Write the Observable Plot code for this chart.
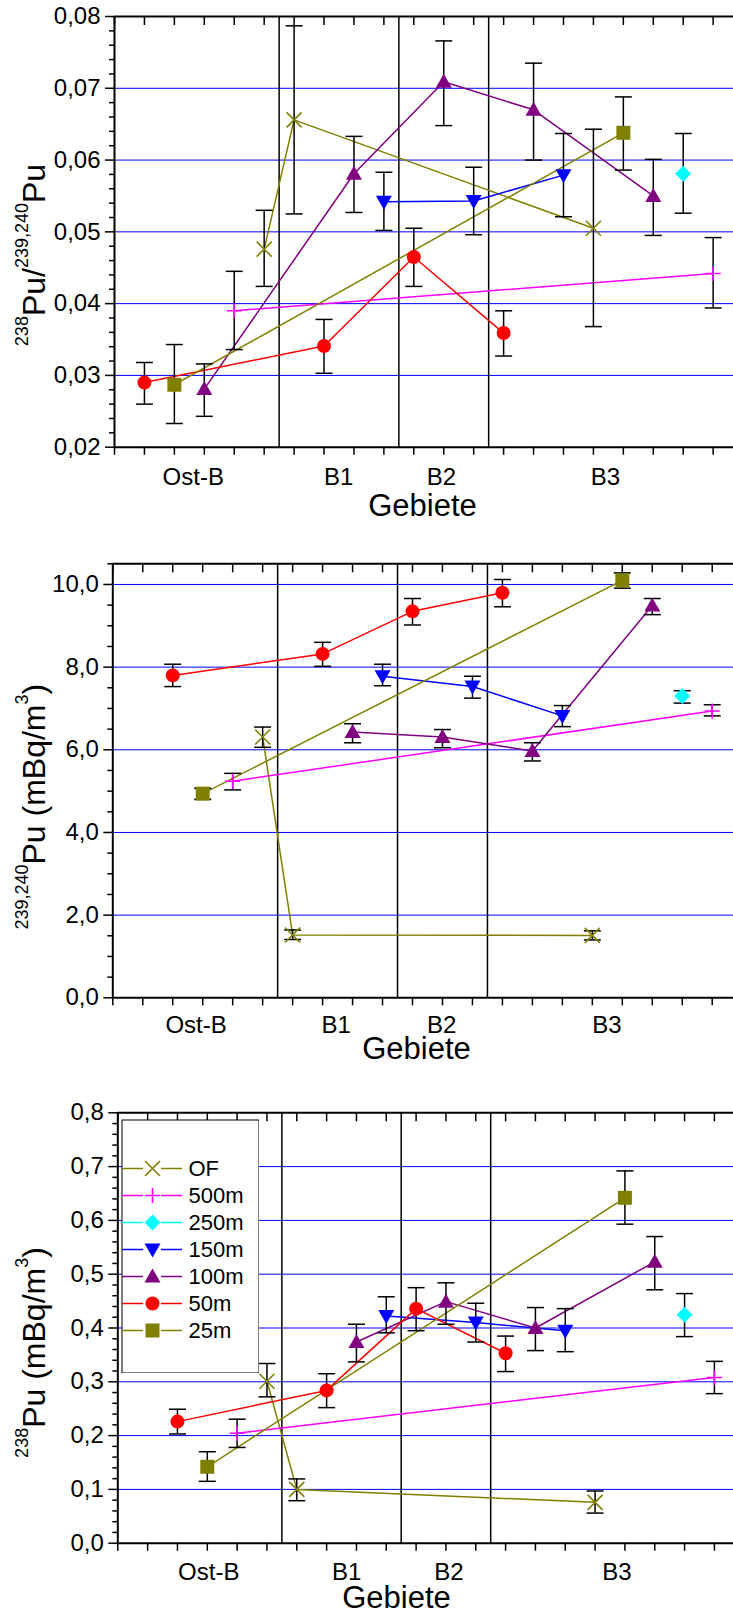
<!DOCTYPE html>
<html><head><meta charset="utf-8">
<script src="https://cdn.jsdelivr.net/npm/d3@7"></script>
<script src="https://cdn.jsdelivr.net/npm/@observablehq/plot@0.6"></script>
<style>
html,body{margin:0;padding:0;background:#fff;overflow:hidden;}
#chart{position:relative;width:733px;height:1611px;overflow:hidden;font-family:"Liberation Sans",Arial,sans-serif;}
.panel{position:absolute;left:0;}
.panel svg{display:block;}
#legend{position:absolute;left:121px;top:1119px;}
#legend svg{display:block;}
</style></head><body><div id="chart"></div>
<script>
// ---------- categories / series ----------
const seriesNames  = ["OF", "500m", "250m", "150m", "100m", "50m", "25m"];
const seriesColors = ["#808000", "#ff00ff", "#00ffff", "#0000ff", "#800080", "#ff0000", "#808000"];
const regionNames  = ["Ost-B", "B1", "B2", "B3"];
const regionBounds = [5.5, 9.5, 12.5];

// ---------- panel 1: 238Pu / 239,240Pu ----------
const ratioSeries = ["50m","25m","100m","500m","OF","OF","50m","100m","150m","50m","100m","150m","50m","100m","150m","OF","25m","100m","250m","500m"];
const ratioPos    = [1,2,3,4,5,6,7,8,9,10,11,12,13,14,15,16,17,18,19,20];
const ratioValue  = [0.0290,0.0287,0.0281,0.0390,0.0476,0.0656,0.0341,0.0581,0.0542,0.0465,0.0709,0.0543,0.0359,0.0670,0.0579,0.0505,0.0638,0.0550,0.0581,0.0442];
const ratioLow    = [0.0260,0.0233,0.0243,0.0336,0.0424,0.0525,0.0303,0.0527,0.0502,0.0424,0.0648,0.0496,0.0327,0.0600,0.0521,0.0368,0.0586,0.0495,0.0526,0.0394];
const ratioHigh   = [0.0318,0.0343,0.0316,0.0445,0.0530,0.0787,0.0378,0.0633,0.0583,0.0505,0.0766,0.0590,0.0390,0.0735,0.0637,0.0643,0.0688,0.0601,0.0637,0.0492];
const ratioTicks  = [0.02,0.03,0.04,0.05,0.06,0.07,0.08];

// ---------- panel 2: 239,240Pu (mBq/m3) ----------
const puSeries = ["50m","25m","500m","OF","OF","50m","100m","150m","50m","100m","150m","50m","100m","150m","OF","25m","100m","250m","500m"];
const puPos    = [2,3,4,5,6,7,8,9,10,11,12,13,14,15,16,17,18,19,20];
const puValue  = [7.80,4.94,5.24,6.31,1.52,8.32,6.43,7.78,9.35,6.31,7.53,9.80,5.97,6.82,1.51,10.10,9.49,7.30,6.94];
const puLow    = [7.53,4.80,5.03,6.06,1.41,8.02,6.17,7.55,9.02,6.05,7.25,9.46,5.73,6.56,1.40,9.91,9.27,7.13,6.82];
const puHigh   = [8.07,5.07,5.43,6.55,1.64,8.60,6.63,8.07,9.66,6.49,7.78,10.12,6.17,7.07,1.62,10.28,9.66,7.43,7.09];
const puTicks  = [0,2,4,6,8,10];

// ---------- panel 3: 238Pu (mBq/m3) ----------
const pu238Series = ["50m","25m","500m","OF","OF","50m","100m","150m","50m","100m","150m","50m","100m","150m","OF","25m","100m","250m","500m"];
const pu238Pos    = [2,3,4,5,6,7,8,9,10,11,12,13,14,15,16,17,18,19,20];
const pu238Value  = [0.226,0.142,0.2045,0.301,0.100,0.284,0.374,0.4225,0.436,0.449,0.410,0.353,0.400,0.395,0.076,0.642,0.523,0.4245,0.308];
const pu238Low    = [0.203,0.115,0.178,0.272,0.079,0.252,0.337,0.391,0.395,0.407,0.374,0.319,0.358,0.356,0.056,0.593,0.471,0.384,0.278];
const pu238High   = [0.249,0.170,0.2305,0.334,0.1195,0.315,0.407,0.458,0.475,0.484,0.446,0.385,0.438,0.436,0.097,0.692,0.570,0.464,0.338];
const pu238Ticks  = [0,0.1,0.2,0.3,0.4,0.5,0.6,0.7,0.8];

// ---------- symbols ----------
function sym(fn){ return {draw(ctx, size){ const r = Math.sqrt(size / Math.PI); fn(ctx, r); }}; }
const symTimes = sym((c,r)=>{ c.moveTo(-r,-r); c.lineTo(r,r); c.moveTo(-r,r); c.lineTo(r,-r); });
const symPlus  = sym((c,r)=>{ c.moveTo(-r,0); c.lineTo(r,0); c.moveTo(0,-r); c.lineTo(0,r); });
const symDiamond = sym((c,r)=>{ c.moveTo(0,-r); c.lineTo(r,0); c.lineTo(0,r); c.lineTo(-r,0); c.closePath(); });
const symTriDown = sym((c,r)=>{ c.moveTo(0,r); c.lineTo(r,-0.75*r); c.lineTo(-r,-0.75*r); c.closePath(); });
const symTriUp   = sym((c,r)=>{ c.moveTo(0,-r); c.lineTo(r,0.75*r); c.lineTo(-r,0.75*r); c.closePath(); });
const symSquare  = sym((c,r)=>{ c.rect(-r,-r,2*r,2*r); });
const symCap     = sym((c,r)=>{ c.moveTo(-r,0); c.lineTo(r,0); });
const markerStyle = {
  "OF":   {symbol: symTimes,   r: 7.5, filled: false},
  "500m": {symbol: symPlus,    r: 7.5, filled: false},
  "250m": {symbol: symDiamond, r: 8,   filled: true},
  "150m": {symbol: symTriDown, r: 8,   filled: true},
  "100m": {symbol: symTriUp,   r: 8,   filled: true},
  "50m":  {symbol: "circle",   r: 7,   filled: true},
  "25m":  {symbol: symSquare,  r: 7,   filled: true}
};
const colorOf = s => seriesColors[seriesNames.indexOf(s)];
function dotFor(data, s, opts){
  const m = markerStyle[s];
  return Plot.dot(data, {
    ...opts, symbol: m.symbol, r: m.r,
    fill: m.filled ? colorOf(s) : "none",
    stroke: m.filled ? "none" : colorOf(s),
    strokeWidth: m.filled ? 0 : 1.6
  });
}

const FONT = '"Liberation Sans", Arial, sans-serif';
const comma = d => v => v.toFixed(d).replace(".", ",");

const panels = [
  {id: "p1", top: 0, height: 530, mt: 16, mb: 83.3, ml: 114, xMax: 20.68,
   rows: ratioSeries.map((s,i)=>({s, pos: ratioPos[i], value: ratioValue[i], lo: ratioLow[i], hi: ratioHigh[i]})),
   ticks: ratioTicks, minor: d3.range(10, 41).filter(i => i % 5 !== 0).map(i => i * 0.002), dec: 2, yPad: 0,
   labelPos: [2.63, 7.49, 10.92, 16.4], labelDy: 30.6, titleDy: 58.9, titleDx: -1.5,
   yTitle: [["238", true], ["Pu/", false], ["239,240", true], ["Pu", false]], yTitleY: 255},
  {id: "p2", top: 530, height: 540, mt: 33.3, mb: 72.7, ml: 112.3, xMax: 20.71,
   rows: puSeries.map((s,i)=>({s, pos: puPos[i], value: puValue[i], lo: puLow[i], hi: puHigh[i]})),
   ticks: puTicks, minor: d3.range(0, 22).filter(i => i % 4 !== 0).map(i => i * 0.5), dec: 1, yPad: 0.5,
   labelPos: [2.78, 7.45, 10.97, 16.49], labelDy: 28, titleDy: 51.5, titleDx: -6.7,
   yTitle: [["239,240", true], ["Pu (mBq/m", false], ["3", true], [")", false]], yTitleY: 276.7},
  {id: "p3", top: 1070, height: 541, mt: 42.3, mb: 68.3, ml: 117.3, xMax: 20.64,
   rows: pu238Series.map((s,i)=>({s, pos: pu238Pos[i], value: pu238Value[i], lo: pu238Low[i], hi: pu238High[i]})),
   ticks: pu238Ticks, minor: d3.range(0, 41).filter(i => i % 5 !== 0).map(i => i * 0.02), dec: 1, yPad: 0,
   labelPos: [3.05, 7.67, 11.1, 16.73], labelDy: 29.6, titleDy: 54.4, titleDx: -29.2,
   yTitle: [["238", true], ["Pu (mBq/m", false], ["3", true], [")", false]], yTitleY: 282.5}
];

const chart = document.getElementById("chart");

for (const p of panels) {
  const yDom = [p.ticks[0], p.ticks[p.ticks.length - 1] + p.yPad];
  const grid = p.ticks.filter(t => t > yDom[0] && t < yDom[1]);
  const present = seriesNames.filter(s => p.rows.some(r => r.s === s));
  const lineMarks = present.map(s => Plot.line(p.rows.filter(r => r.s === s), {x: "pos", y: "value", stroke: colorOf(s), strokeWidth: 1.5}));
  const dotMarks = present.map(s => dotFor(p.rows.filter(r => r.s === s), s, {x: "pos", y: "value"}));
  const svg = Plot.plot({
    width: 733, height: p.height,
    marginTop: p.mt, marginBottom: p.mb, marginLeft: p.ml, marginRight: 0,
    x: {domain: [0, p.xMax], axis: null},
    y: {domain: yDom, axis: null},
    style: {fontFamily: FONT, background: "white", color: "black", overflow: "visible"},
    marks: [
      Plot.ruleY(grid, {stroke: "#0000ff", strokeWidth: 1}),
      Plot.ruleX(regionBounds, {stroke: "black", strokeWidth: 1.5}),
      ...lineMarks,
      Plot.ruleX(p.rows, {x: "pos", y1: "lo", y2: "hi", stroke: "black", strokeWidth: 1.5}),
      Plot.dot(p.rows, {x: "pos", y: "hi", symbol: symCap, r: 8.5, stroke: "black", strokeWidth: 1.5, fill: "none"}),
      Plot.dot(p.rows, {x: "pos", y: "lo", symbol: symCap, r: 8.5, stroke: "black", strokeWidth: 1.5, fill: "none"}),
      ...dotMarks,
      Plot.ruleY([yDom[0], yDom[1]], {stroke: "black", strokeWidth: 2}),
      Plot.ruleX([0], {stroke: "black", strokeWidth: 2}),
      Plot.axisX({anchor: "bottom", ticks: d3.range(0, 21), tickSize: 8, tickFormat: () => "", label: null, strokeWidth: 1.5}),
      Plot.axisX({anchor: "top", ticks: d3.range(0, 21), tickSize: -8, tickFormat: () => "", label: null, strokeWidth: 1.5}),
      Plot.axisY({ticks: p.ticks, tickSize: 9, tickPadding: 5, tickFormat: comma(p.dec), fontSize: 24, label: null, strokeWidth: 1.5}),
      Plot.axisY({ticks: p.minor, tickSize: 5, tickFormat: () => "", label: null, strokeWidth: 1.5}),
      Plot.text(regionNames.map((t, i) => ({t, x: p.labelPos[i]})), {x: "x", text: "t", frameAnchor: "bottom", dy: p.labelDy, lineAnchor: "middle", fontSize: 24, fill: "black"}),
      Plot.text(["Gebiete"], {text: d => d, frameAnchor: "bottom", dy: p.titleDy, dx: p.titleDx, lineAnchor: "middle", fontSize: 31, fill: "black"})
    ]
  });
  // y-axis title with superscripts
  const t = d3.select(svg).append("text")
    .attr("transform", `translate(45,${p.yTitleY}) rotate(-90)`)
    .attr("text-anchor", "middle").attr("fill", "black")
    .attr("font-family", FONT).attr("font-size", 32);
  let shifted = false;
  for (const [s, sup] of p.yTitle) {
    const ts = t.append("tspan").attr("font-size", sup ? 18 : 32).text(s);
    if (sup && !shifted) { ts.attr("dy", -17); shifted = true; }
    else if (!sup && shifted) { ts.attr("dy", 17); shifted = false; }
  }
  const div = document.createElement("div");
  div.className = "panel";
  div.style.top = p.top + "px";
  div.appendChild(svg);
  chart.appendChild(div);
}

// ---------- legend (bottom panel) ----------
const legendMarks = [Plot.frame({fill: "white", stroke: "black", strokeWidth: 1, inset: 0.5})];
for (const s of seriesNames) {
  legendMarks.push(Plot.ruleY([s], {y: d => d, x1: 1, x2: 22, stroke: colorOf(s), strokeWidth: 1.5}));
  legendMarks.push(Plot.ruleY([s], {y: d => d, x1: 40, x2: 61, stroke: colorOf(s), strokeWidth: 1.5}));
  legendMarks.push(dotFor([s], s, {x: () => 31, y: d => d}));
}
legendMarks.push(Plot.text(seriesNames, {x: () => 67, y: d => d, text: d => d, textAnchor: "start", lineAnchor: "middle", fontSize: 22, fill: "black"}));
const legend = Plot.plot({
  width: 138, height: 254, margin: 0,
  x: {domain: [0, 138], range: [0, 138], axis: null},
  y: {type: "point", domain: seriesNames, range: [35, 224], axis: null},
  style: {fontFamily: FONT, background: "transparent", color: "black"},
  marks: legendMarks
});
const ld = document.createElement("div");
ld.id = "legend";
ld.appendChild(legend);
chart.appendChild(ld);
</script></body></html>
